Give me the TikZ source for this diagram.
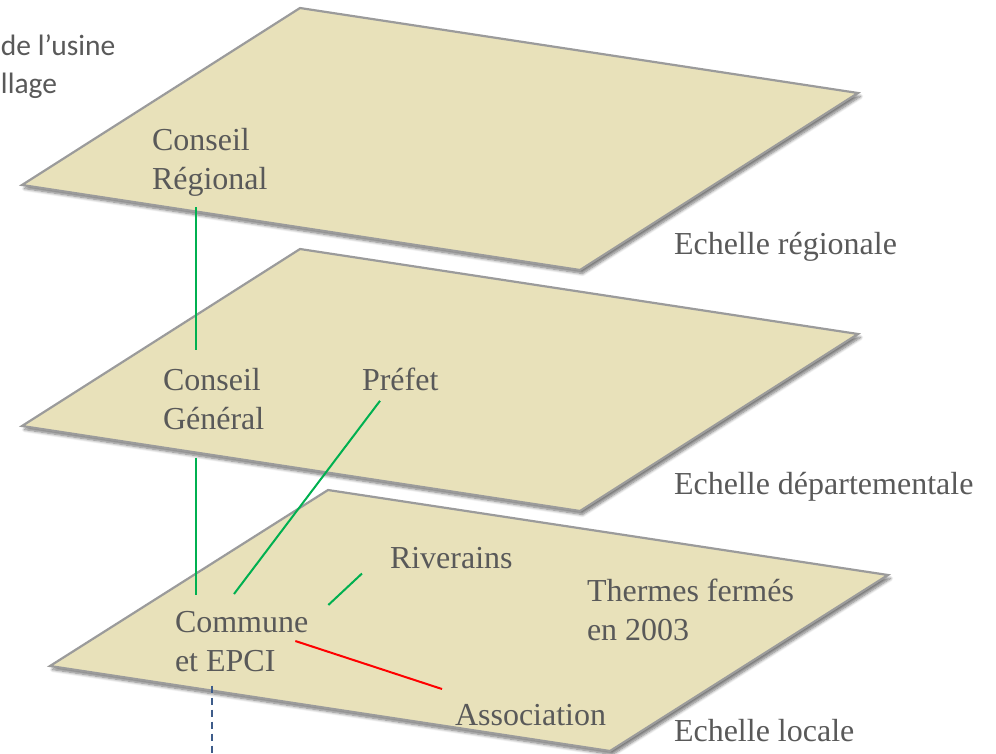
\documentclass[tikz,border=0pt]{standalone}
\usepackage{fontspec}
\setmainfont{Liberation Serif}
\newfontfamily\sansgris{Carlito}
\usetikzlibrary{shadows.blur}

\definecolor{planfond}{RGB}{232,225,186}
\definecolor{planbord}{RGB}{155,155,155}
\definecolor{textgris}{RGB}{89,89,89}
\definecolor{lienvert}{RGB}{0,176,80}
\definecolor{lienbleu}{RGB}{62,92,138}

\tikzset{Plan/.style={fill=planfond,draw=planbord,line width=2.2pt,blur shadow={shadow xshift=2.5pt,shadow yshift=-3.5pt,shadow blur steps=8,shadow blur radius=3pt,shadow opacity=55}}}
\tikzset{Acteur/.style={anchor=north west,inner sep=2pt,outer sep=0pt,align=left,text=textgris,font=\fontsize{32}{39}\selectfont}}
\tikzset{Vert/.style={draw=lienvert,line width=2pt}}
\tikzset{Rouge/.style={draw=red,line width=2pt}}
\tikzset{Bleu/.style={draw=lienbleu,line width=2pt,dash pattern=on 7pt off 5pt}}

\begin{document}
\begin{tikzpicture}[x=1pt,y=-1pt]

\useasboundingbox (0,0) rectangle (996,753);

\filldraw[Plan] (300,8) -- (858,93) -- (580,270) -- (22,185) -- cycle;
\filldraw[Plan] (300,249) -- (858,334) -- (580,511) -- (22,426) -- cycle;
\filldraw[Plan] (328,490) -- (888,575) -- (610,751) -- (50,666) -- cycle;

\node[Acteur,font=\sansgris\fontsize{29.5}{37.5}\selectfont] (Titre) at (-1,33) {de l’usine\\llage};

\node[Acteur] (CR) at (150,126) {Conseil\\Régional};
\node[Acteur] (CG) at (161,366) {Conseil\\Général};
\node[Acteur] (PF) at (360,366) {Préfet};
\node[Acteur] (RV) at (388,545) {Riverains};
\node[Acteur] (TH) at (585,577) {Thermes fermés\\en 2003};
\node[Acteur] (CM) at (173,609) {Commune\\et EPCI};
\node[Acteur] (AS) at (453,702) {Association};

\node[Acteur] (ER) at (672,230) {Echelle régionale};
\node[Acteur] (ED) at (672,470) {Echelle départementale};
\node[Acteur] (EL) at (672,717) {Echelle locale};

\coordinate (Bas) at (212,760);

\draw[Vert] ([shift={(46,9)}]CR.south west) -- ([shift={(35,-16)}]CG.north west);
\draw[Vert] ([shift={(35,26)}]CG.south west) -- ([shift={(23,-14)}]CM.north west);
\draw[Vert] ([shift={(20,8)}]PF.south west) -- ([shift={(61,-15)}]CM.north west);
\draw[Vert] ([shift={(-26,3)}]RV.south west) -- ([shift={(18,-4)}]CM.north east);
\draw[Rouge] ([shift={(-15,32)}]CM.north east) -- ([shift={(-11,-13)}]AS.north west);
\draw[Bleu] ([shift={(39,12)}]CM.south west) -- (Bas);

\end{tikzpicture}
\end{document}
